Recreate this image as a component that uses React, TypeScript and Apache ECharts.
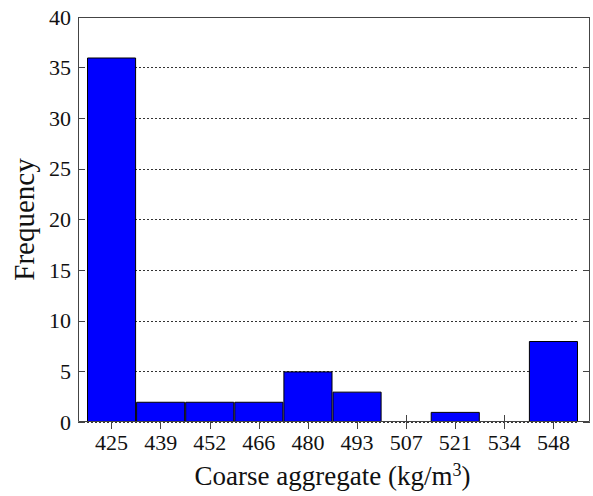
import React, { useEffect, useRef } from "react";
import * as echarts from "echarts";

const categories = ["425", "439", "452", "466", "480", "493", "507", "521", "534", "548"];
const frequencies = [36, 2, 2, 2, 5, 3, 0, 1, 0, 8];
const yTicks = { min: 0, max: 40, interval: 5 };

const FONT = "'Liberation Serif', 'DejaVu Serif', serif";

export default function App() {
  const ref = useRef<HTMLDivElement>(null);
  useEffect(() => {
    if (!ref.current) return;
    const chart = echarts.init(ref.current, null, { renderer: "svg" });
    const frameColor = "#444";
    chart.setOption({
      animation: false,
      backgroundColor: "#fff",
      grid: { left: 87, right: 15, top: 17, bottom: 74 },
      xAxis: [
        {
          type: "category",
          data: categories,
          position: "bottom",
          boundaryGap: true,
          axisLine: { show: false },
          axisTick: { show: true, inside: true, alignWithLabel: true, length: 7, lineStyle: { color: frameColor } },
          axisLabel: { color: "#111", fontFamily: FONT, fontSize: 22, margin: 9 },
          name: "Coarse aggregate (kg/m{sup|3})",
          nameLocation: "middle",
          nameGap: 39,
          nameTextStyle: {
            color: "#111",
            fontFamily: FONT,
            fontSize: 27,
            rich: { sup: { fontFamily: FONT, fontSize: 18, verticalAlign: "top", padding: [0, 0, 12, 0] } },
          },
        },
        {
          type: "category",
          data: categories,
          position: "top",
          boundaryGap: true,
          axisLine: { show: false },
          axisTick: { show: true, inside: true, alignWithLabel: true, length: 7, lineStyle: { color: frameColor } },
          axisLabel: { show: false },
        },
      ],
      yAxis: [
        {
          type: "value",
          position: "left",
          offset: 9,
          min: yTicks.min,
          max: yTicks.max,
          interval: yTicks.interval,
          axisLine: { show: false },
          axisTick: { show: true, inside: true, length: 7, lineStyle: { color: frameColor } },
          axisLabel: { color: "#111", fontFamily: FONT, fontSize: 22, margin: 7 },
          splitLine: { show: true, lineStyle: { color: "#333", type: [2, 2], width: 1 } },
          name: "Frequency",
          nameLocation: "middle",
          nameGap: 37,
          nameTextStyle: { color: "#111", fontFamily: FONT, fontSize: 29 },
        },
        {
          type: "value",
          position: "right",
          offset: 12,
          min: yTicks.min,
          max: yTicks.max,
          interval: yTicks.interval,
          axisLine: { show: false },
          axisTick: { show: true, inside: true, length: 7, lineStyle: { color: frameColor } },
          axisLabel: { show: false },
          splitLine: { show: false },
        },
      ],
      series: [
        {
          type: "bar",
          data: frequencies.map((v) => (v === 0 ? { value: v, itemStyle: { borderWidth: 0 } } : v)),
          barCategoryGap: "0%",
          itemStyle: { color: "#0000ff", borderColor: "#000", borderWidth: 1 },
          z: 3,
        },
      ],
      graphic: [
        {
          type: "rect",
          shape: { x: 78.5, y: 17.5, width: 511, height: 404 },
          style: { fill: "none", stroke: frameColor, lineWidth: 1 },
          z: 100,
          silent: true,
        },
      ],
    });
    return () => chart.dispose();
  }, []);
  return (
    <div
      ref={ref}
      style={{ position: "fixed", left: 0, top: 0, width: 593, height: 496, background: "#fff" }}
    />
  );
}
